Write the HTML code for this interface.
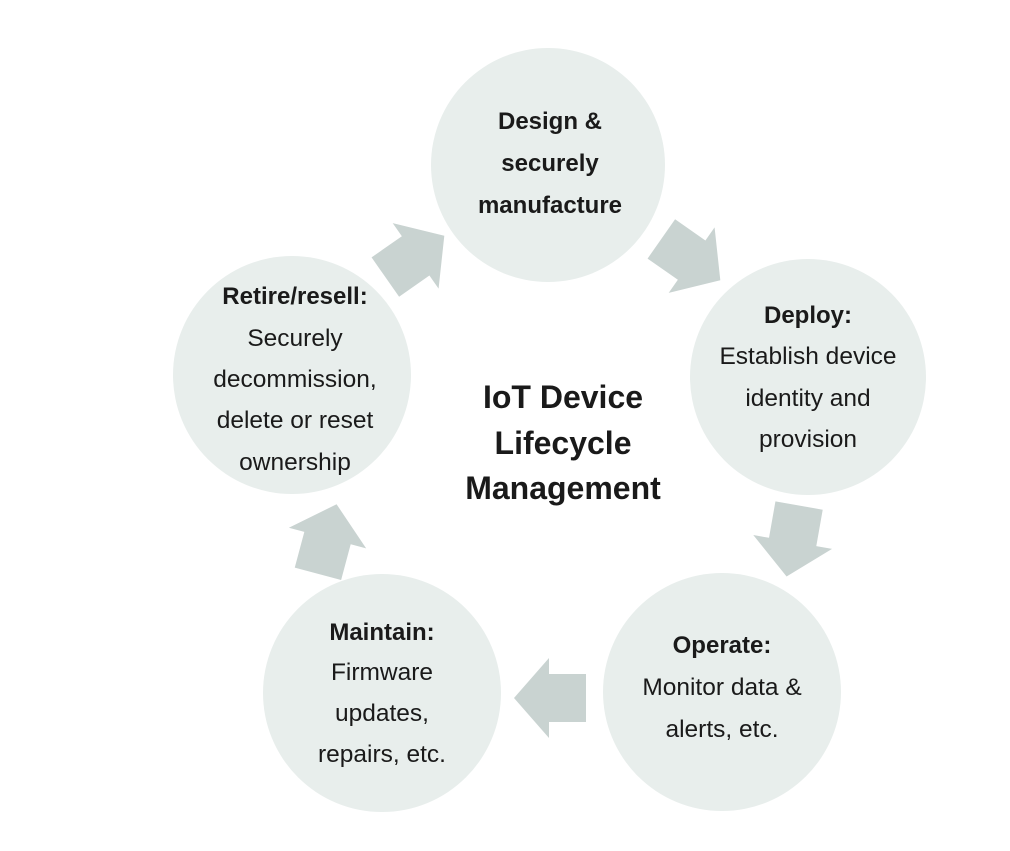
<!DOCTYPE html>
<html><head><style>
body{margin:0;background:#fff;}
</style></head><body>
<svg width="1010" height="846" viewBox="0 0 1010 846" xmlns="http://www.w3.org/2000/svg" font-family="Liberation Sans, sans-serif" fill="#1a1a1a">
<defs>
<polygon id="a" points="-35,-24 2,-24 2,-40 37,0 2,40 2,24 -35,24" fill="#c9d3d1"/>
</defs>
<g fill="#e8eeec">
<circle cx="548" cy="165" r="117"/>
<circle cx="808" cy="377" r="118"/>
<circle cx="722" cy="692" r="119"/>
<circle cx="382" cy="693" r="119"/>
<circle cx="292" cy="375" r="119"/>
</g>
<use href="#a" transform="translate(414,257) rotate(-35)"/>
<use href="#a" transform="translate(690,259) rotate(35)"/>
<use href="#a" transform="translate(793,540) rotate(100)"/>
<use href="#a" transform="translate(551,698) rotate(180)"/>
<use href="#a" transform="translate(327,540) rotate(-75)"/>
<g font-size="24.5" text-anchor="middle">
<text x="550" y="129" font-weight="bold" font-size="24">Design &amp;</text>
<text x="550" y="171" font-weight="bold" font-size="24">securely</text>
<text x="550" y="213" font-weight="bold" font-size="24">manufacture</text>
<text x="808" y="323" font-weight="bold" font-size="24">Deploy:</text>
<text x="808" y="364">Establish device</text>
<text x="808" y="406">identity and</text>
<text x="808" y="447">provision</text>
<text x="722" y="653" font-weight="bold" font-size="24">Operate:</text>
<text x="722" y="695">Monitor data &amp;</text>
<text x="722" y="737">alerts, etc.</text>
<text x="382" y="640" font-weight="bold" font-size="24">Maintain:</text>
<text x="382" y="680">Firmware</text>
<text x="382" y="721">updates,</text>
<text x="382" y="762">repairs, etc.</text>
<text x="295" y="304" font-weight="bold" font-size="24">Retire/resell:</text>
<text x="295" y="346">Securely</text>
<text x="295" y="387">decommission,</text>
<text x="295" y="428">delete or reset</text>
<text x="295" y="470">ownership</text>
</g>
<g font-size="32" font-weight="bold" text-anchor="middle">
<text x="563" y="408">IoT Device</text>
<text x="563" y="454">Lifecycle</text>
<text x="563" y="499">Management</text>
</g>
</svg>
</body></html>
